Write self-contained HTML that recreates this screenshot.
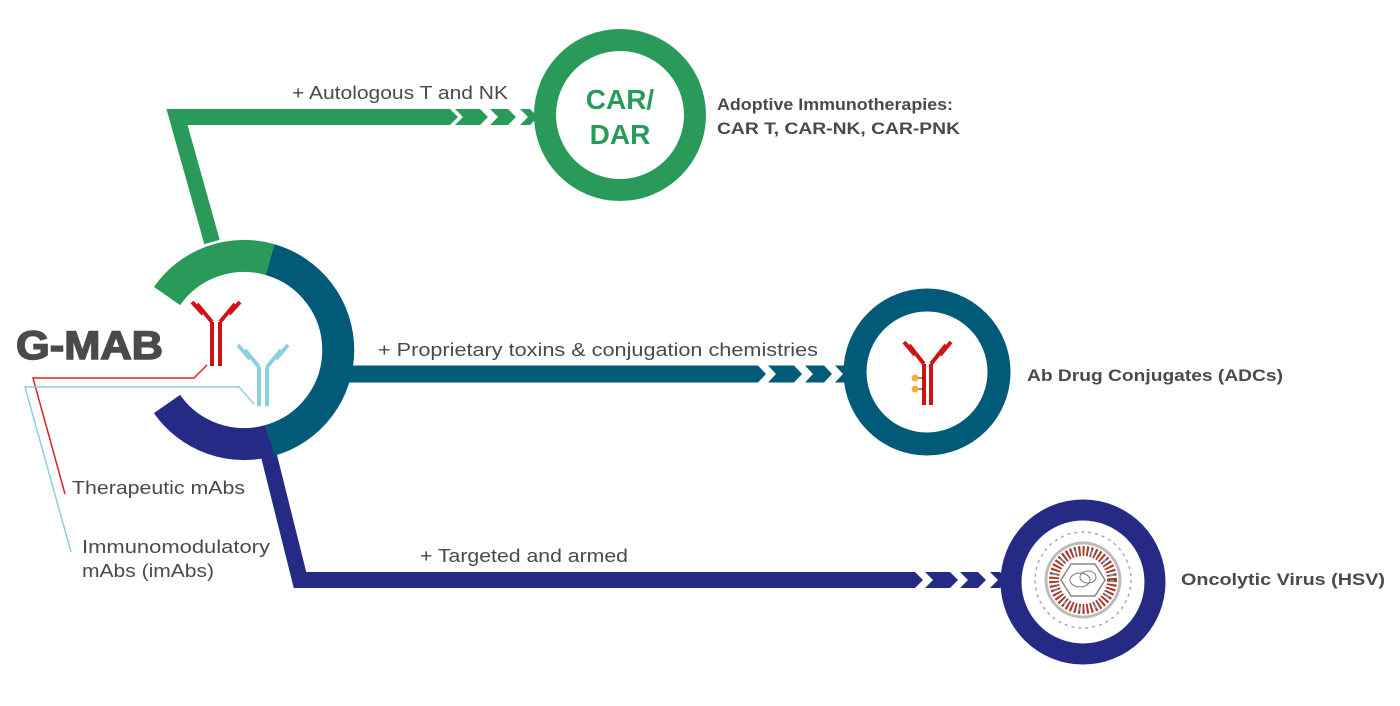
<!DOCTYPE html>
<html><head><meta charset="utf-8"><style>
html,body{margin:0;padding:0;background:#fff;}
svg{display:block;}
text{font-family:"Liberation Sans",sans-serif;fill:#4a4a4a;}
.b{font-weight:bold;}
</style></head><body>
<svg width="1400" height="706" viewBox="0 0 1400 706" xmlns="http://www.w3.org/2000/svg">
<!-- green connector -->
<polyline points="212,242 177,117 450,117" fill="none" stroke="#2a9a5a" stroke-width="16" stroke-linejoin="miter"/>
<polygon points="440,109 450,109 458,117 450,125 440,125" fill="#2a9a5a"/>
<polygon points="455,109 480,109 488,117 480,125 455,125 463,117" fill="#2a9a5a"/>
<polygon points="490,109 508,109 516,117 508,125 490,125 498,117" fill="#2a9a5a"/>
<polygon points="520,109 530,109 538,117 530,125 520,125 528,117" fill="#2a9a5a"/>
<circle cx="620" cy="115" r="75" fill="none" stroke="#2a9a5a" stroke-width="22"/>
<text x="620" y="109" text-anchor="middle" class="b" style="font-size:28px;fill:#2a9a5a;font-weight:900">CAR/</text>
<text x="620" y="144" text-anchor="middle" class="b" style="font-size:28px;fill:#2a9a5a;font-weight:900">DAR</text>

<!-- teal connector -->
<line x1="330" y1="374" x2="758" y2="374" stroke="#005a78" stroke-width="17"/>
<polygon points="750,365.5 758,365.5 766,374 758,382.5 750,382.5" fill="#005a78"/>
<polygon points="768,365.5 794,365.5 802,374 794,382.5 768,382.5 776,374" fill="#005a78"/>
<polygon points="805,365.5 824,365.5 832,374 824,382.5 805,382.5 813,374" fill="#005a78"/>
<polygon points="835,365.5 845,365.5 853,374 845,382.5 835,382.5 843,374" fill="#005a78"/>
<circle cx="927" cy="372" r="72" fill="none" stroke="#005a78" stroke-width="23"/>

<!-- navy connector -->
<polyline points="265,440 300,580 915,580" fill="none" stroke="#252b85" stroke-width="16" stroke-linejoin="miter"/>
<polygon points="908,572 915,572 923,580 915,588 908,588" fill="#252b85"/>
<polygon points="925,572 950,572 958,580 950,588 925,588 933,580" fill="#252b85"/>
<polygon points="960,572 978,572 986,580 978,588 960,588 968,580" fill="#252b85"/>
<polygon points="990,572 1000,572 1008,580 1000,588 990,588 998,580" fill="#252b85"/>
<circle cx="1083" cy="582" r="72" fill="none" stroke="#252b85" stroke-width="21"/>

<!-- central ring -->
<g fill="none" stroke-width="32">
<path d="M 167,296 A 94 94 0 0 1 270,259.6" stroke="#2a9a5a"/>
<path d="M 270,259.6 A 94 94 0 0 1 270,440.4" stroke="#005a78"/>
<path d="M 270,440.4 A 94 94 0 0 1 167,404" stroke="#252b85"/>
</g>

<!-- antibodies -->
<g stroke="#cc1517" stroke-width="4" fill="none">
<line x1="212" y1="322" x2="212" y2="366"/><line x1="220" y1="322" x2="220" y2="366"/>
<line x1="212" y1="322" x2="197" y2="304"/><line x1="220" y1="322" x2="235" y2="304"/>
<line x1="203" y1="314" x2="192" y2="302"/><line x1="229" y1="314" x2="240" y2="302"/>
</g>
<g stroke="#8ccfe0" stroke-width="4" fill="none">
<line x1="259" y1="367" x2="259" y2="406"/><line x1="267" y1="367" x2="267" y2="406"/>
<line x1="259" y1="367" x2="245" y2="350"/><line x1="267" y1="367" x2="281" y2="350"/>
<line x1="250" y1="359" x2="238" y2="345"/><line x1="276" y1="359" x2="288" y2="345"/>
</g>
<!-- leader lines -->
<polyline points="207,365 194,378 33,378 65,494" fill="none" stroke="#d22" stroke-width="1.5"/>
<polyline points="254,404 239,387 25,387 71,552" fill="none" stroke="#8ccfe0" stroke-width="1.5"/>

<!-- ADC antibody -->
<g stroke="#cc1517" stroke-width="4" fill="none">
<line x1="924" y1="364" x2="924" y2="405"/><line x1="931" y1="364" x2="931" y2="405"/>
<line x1="924" y1="364" x2="909" y2="345"/><line x1="931" y1="364" x2="946" y2="345"/>
<line x1="915" y1="355" x2="904" y2="342"/><line x1="940" y1="355" x2="951" y2="342"/>
</g>
<line x1="915" y1="378" x2="924" y2="378" stroke="#222" stroke-width="1"/>
<line x1="915" y1="389" x2="924" y2="389" stroke="#222" stroke-width="1"/>
<circle cx="915" cy="378" r="3.5" fill="#f2b33d"/>
<circle cx="915" cy="389" r="3.5" fill="#f2b33d"/>

<!-- virus -->
<g>
<circle cx="1083" cy="580" r="48" fill="none" stroke="#aaa" stroke-width="1.5" stroke-dasharray="3 4"/>
<circle cx="1083" cy="580" r="37" fill="none" stroke="#bbb" stroke-width="3"/>
<circle cx="1083" cy="580" r="29" fill="none" stroke="#a83a2a" stroke-width="10" stroke-dasharray="2 2"/>
<circle cx="1083" cy="580" r="29" fill="none" stroke="#4ab" stroke-width="4" stroke-dasharray="2 14"/>
<polygon points="1071,564 1095,564 1105,580 1095,596 1071,596 1061,580" fill="#fff" stroke="#888" stroke-width="1.5"/>
<ellipse cx="1080" cy="580" rx="10" ry="7" fill="none" stroke="#777" stroke-width="1"/>
<ellipse cx="1088" cy="577" rx="8" ry="6" fill="none" stroke="#777" stroke-width="1"/>
</g>

<!-- texts -->
<text x="292" y="99" style="font-size:18px" textLength="216" lengthAdjust="spacingAndGlyphs">+ Autologous T and NK</text>
<text x="717" y="110" class="b" style="font-size:17px" textLength="236" lengthAdjust="spacingAndGlyphs">Adoptive Immunotherapies:</text>
<text x="717" y="134" class="b" style="font-size:17px" textLength="243" lengthAdjust="spacingAndGlyphs">CAR T, CAR-NK, CAR-PNK</text>
<text x="378" y="356" style="font-size:18px" textLength="440" lengthAdjust="spacingAndGlyphs">+ Proprietary toxins &amp; conjugation chemistries</text>
<text x="1027" y="381" class="b" style="font-size:17px" textLength="256" lengthAdjust="spacingAndGlyphs">Ab Drug Conjugates (ADCs)</text>
<text x="420" y="562" style="font-size:18px" textLength="208" lengthAdjust="spacingAndGlyphs">+ Targeted and armed</text>
<text x="1181" y="585" class="b" style="font-size:17px" textLength="204" lengthAdjust="spacingAndGlyphs">Oncolytic Virus (HSV)</text>
<text x="16" y="359" class="b" style="font-size:40px;fill:#4a4a4a;stroke:#4a4a4a;stroke-width:1.5" textLength="147" lengthAdjust="spacingAndGlyphs">G-MAB</text>
<text x="72" y="494" style="font-size:18px" textLength="173" lengthAdjust="spacingAndGlyphs">Therapeutic mAbs</text>
<text x="82" y="553" style="font-size:18px" textLength="188" lengthAdjust="spacingAndGlyphs">Immunomodulatory</text>
<text x="82" y="577" style="font-size:18px" textLength="132" lengthAdjust="spacingAndGlyphs">mAbs (imAbs)</text>
</svg>
</body></html>
